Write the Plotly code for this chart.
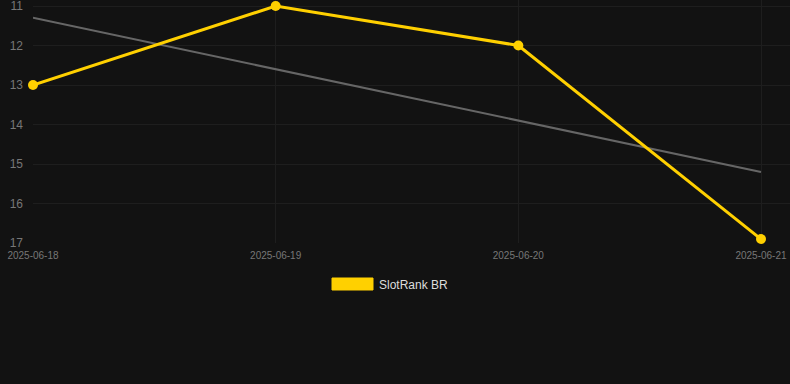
import plotly.graph_objects as go
import pandas as pd

dates = ["2025-06-18", "2025-06-19", "2025-06-20", "2025-06-21"]
rank = [13, 11, 12, 16.9]
trend_dates = ["2025-06-18", "2025-06-21"]
trend_vals = [11.3, 15.2]
y_ticks = [11, 12, 13, 14, 15, 16, 17]
series_name = "SlotRank BR"

W, H = 790, 384
L, R, T, B = 33, 0, 0, 141
BG = "#121212"

fig = go.Figure()
fig.add_trace(go.Scatter(x=trend_dates, y=trend_vals, mode="lines",
                         line=dict(color="#666666", width=2), showlegend=False,
                         hoverinfo="skip", cliponaxis=False))
fig.add_trace(go.Scatter(x=dates, y=rank, mode="lines+markers", name=series_name,
                         line=dict(color="#FFD000", width=3),
                         marker=dict(size=10, color="#FFD000"), showlegend=False,
                         cliponaxis=False))

d0 = pd.Timestamp(dates[0])
d1 = pd.Timestamp(dates[-1])
px_per_day = 728 / 3
xr_end = d1 + pd.Timedelta(days=(W - L - 728) / px_per_day)

fig.update_layout(
    width=W, height=H,
    margin=dict(l=L, r=R, t=T, b=B),
    paper_bgcolor=BG, plot_bgcolor=BG,
    showlegend=False,
    xaxis=dict(type="date", range=[d0, xr_end], tickvals=dates, ticktext=dates,
               showgrid=True, gridcolor="#1e1e1e", gridwidth=1, zeroline=False,
               showline=False, tickfont=dict(family="Liberation Sans, Arial", size=10, color="#777777"),
               ticklabelstandoff=5, ticklabeloverflow="allow"),
    yaxis=dict(range=[17, 17 - 243 / 39.5], tickvals=y_ticks,
               showgrid=True, gridcolor="#1e1e1e", gridwidth=1, zeroline=False,
               showline=False, tickfont=dict(family="Liberation Sans, Arial", size=12, color="#777777"),
               ticklabelstandoff=9, ticklabeloverflow="allow"),
)

# custom legend (box + label) below the plot
fig.add_shape(type="rect", xref="paper", yref="paper",
              x0=(332 - L) / (W - L), x1=(373 - L) / (W - L),
              y0=(H - B - 290) / (H - B - T), y1=(H - B - 278) / (H - B - T),
              fillcolor="#FFD000", line=dict(color="#FFD000", width=1))
fig.add_annotation(xref="paper", yref="paper", x=(377 - L) / (W - L),
                   y=(H - B - 284.5) / (H - B - T), text=series_name,
                   showarrow=False, xanchor="left", yanchor="middle",
                   font=dict(family="Liberation Sans, Arial", size=12, color="#dddddd"))

fig.write_html("out.html", config={"displayModeBar": False},
               post_script="document.body.style.margin='0';document.body.style.background='#121212';")
